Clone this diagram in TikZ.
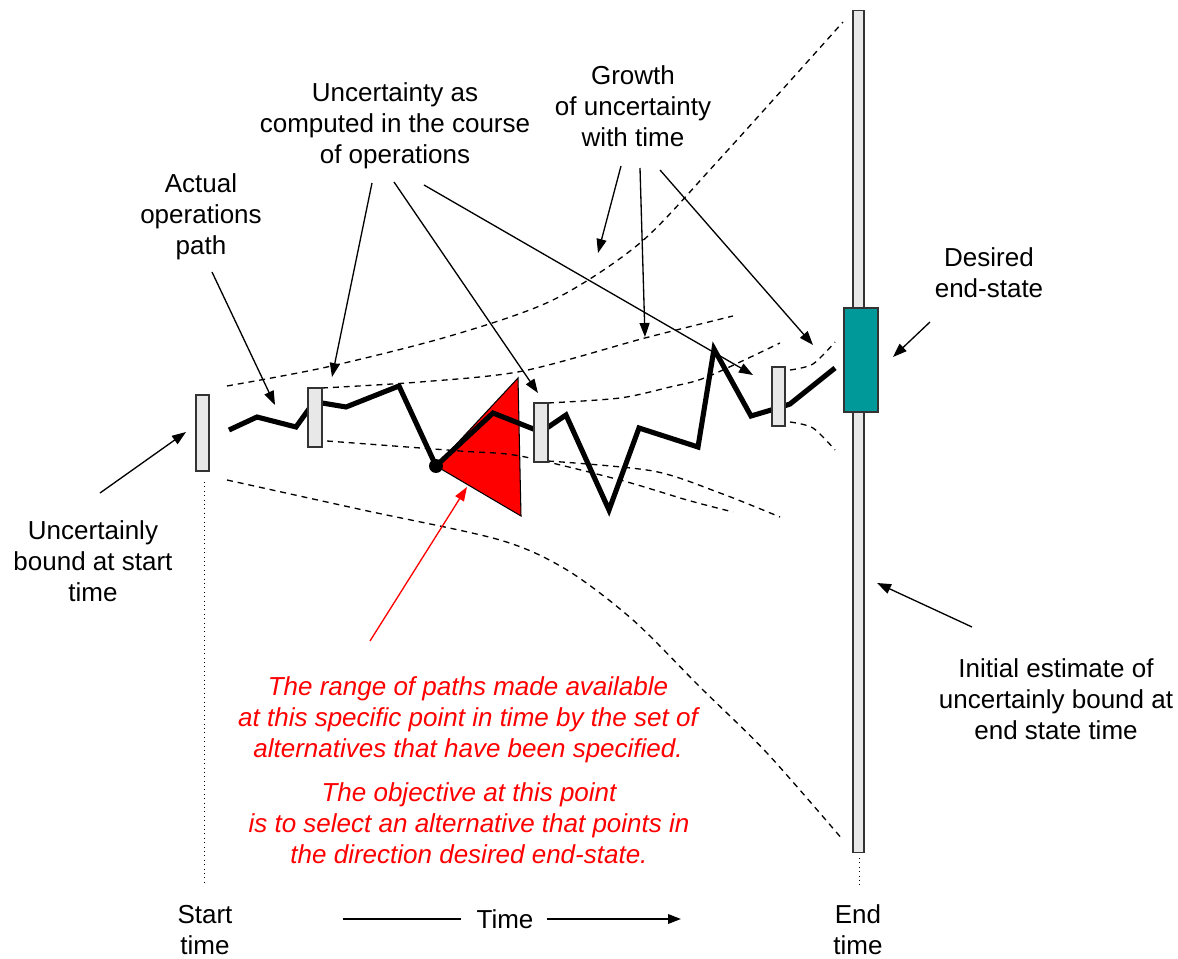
\documentclass[tikz,border=0pt]{standalone}
\usepackage{fontspec}
\setmainfont{Liberation Sans}
\usetikzlibrary{arrows.meta}
\definecolor{bargray}{HTML}{E8E8E8}
\definecolor{barline}{HTML}{333333}
\definecolor{tealbox}{HTML}{009999}
\begin{document}
\begin{tikzpicture}[x=0.02cm,y=-0.02cm,
  lbl/.style={font=\fontsize{14.8pt}{17.6pt}\selectfont, align=center, inner sep=0pt},
  redlbl/.style={lbl, text=red, font=\fontsize{14.8pt}{17.6pt}\selectfont\itshape},
  barbox/.style={draw=barline, fill=bargray, line width=0.6pt, inner sep=0pt, outer sep=0pt},
  dsh/.style={line width=0.75pt, dash pattern=on 3.4pt off 2.8pt},
  opspath/.style={line width=2.9pt, line join=miter},
  pointer/.style={line width=0.75pt, -{Triangle[length=0.28cm,width=0.2cm]}},
  redpointer/.style={pointer, draw=red, -{Triangle[length=0.28cm,width=0.2cm,fill=red]}},
  timearrow/.style={line width=1.1pt, -{Triangle[length=0.26cm,width=0.19cm]}}]
\useasboundingbox (0,0) rectangle (1178,959);

% red triangle (range of paths)
\draw[fill=red, draw=black, line width=0.6pt] (436,466) -- (518,378) -- (521,516) -- cycle;

% dashed uncertainty bounds
\draw[dsh] plot[smooth] coordinates {(227,386) (327,367) (450,336) (553,300) (640,243) (717,162) (843,22)};
\draw[dsh] plot[smooth] coordinates {(227,480) (363,510) (500,540) (567,570) (633,620) (700,687) (767,753) (843,840)};
\draw[dsh] plot[smooth] coordinates {(322,388) (420,382) (523,371) (645,338) (733,316)};
\draw[dsh] plot[smooth] coordinates {(327,441) (460,451) (520,456) (620,480) (687,500) (733,512)};
\draw[dsh] plot[smooth] coordinates {(548,403) (620,398) (670,387) (707,377) (780,343)};
\draw[dsh] plot[smooth] coordinates {(548,461) (653,471) (720,493) (780,517)};
\draw[dsh] plot[smooth] coordinates {(790,370) (813,364) (835,342)};
\draw[dsh] plot[smooth] coordinates {(790,422) (813,428) (835,450)};

% actual operations path
\draw[opspath] (229,430) -- (257,417) -- (296,427) -- (314,402) -- (322,403) -- (346,407) -- (399,386) -- (436,466) -- (493,413) -- (541,432) -- (566,415) -- (609,510) -- (639,428) -- (698,447) -- (714,349) -- (751,416) -- (778,408) -- (790,404) -- (835,368);
\fill (436,466) circle (0.14cm);

% uncertainty bars
\node[barbox, minimum width=0.26cm, minimum height=1.52cm] (bar1) at (202.5,433) {};
\node[barbox, minimum width=0.28cm, minimum height=1.18cm] (bar2) at (315,417.5) {};
\node[barbox, minimum width=0.28cm, minimum height=1.18cm] (bar3) at (541,432.5) {};
\node[barbox, minimum width=0.26cm, minimum height=1.18cm] (bar4) at (778.5,396.5) {};
\node[barbox, minimum width=0.22cm, minimum height=16.86cm] (endbar) at (858.5,431.5) {};
\node[draw=barline, fill=tealbox, line width=0.6pt, inner sep=0pt, minimum width=0.68cm, minimum height=2.08cm] (goal) at (861,360) {};

% dotted time markers
\coordinate (st1) at (204,482); \coordinate (st2) at (204,885);
\coordinate (et1) at (859,858); \coordinate (et2) at (859,885);
\draw[dotted, line width=0.5pt] (st1) -- (st2);
\draw[dotted, line width=0.5pt] (et1) -- (et2);

% labels
\node[lbl] (actual) at (201,217) {Actual\\operations\\path};
\node[lbl] (unc) at (395,126) {Uncertainty as\\computed in the course\\of operations};
\node[lbl] (growth) at (633,106) {Growth\\of uncertainty\\with time};
\node[lbl] (desired) at (989,273) {Desired\\end-state};
\node[lbl] (startb) at (93,561) {Uncertainly\\bound at start\\time};
\node[lbl] (initial) at (1056,699) {Initial estimate of\\uncertainly bound at\\end state time};
\node[redlbl] (range) at (468,720) {The range of paths made available\\at this specific point in time by the set of\\alternatives that have been specified.};
\node[redlbl] (objective) at (469,823) {The objective at this point\\is to select an alternative that points in\\the direction desired end-state.};
\node[lbl] (starttime) at (205,930) {Start\\time};
\node[lbl] (endtime) at (858,930) {End\\time};
\node[lbl] (time) at (505,919) {Time};

% arrow endpoints
\coordinate (a1s) at (212,272); \coordinate (a1t) at (275,405);
\coordinate (u1s) at (372,183); \coordinate (u1t) at (332,377);
\coordinate (u2s) at (394,182); \coordinate (u2t) at (538,393);
\coordinate (u3s) at (424,185); \coordinate (u3t) at (753,375);
\coordinate (g1s) at (621,166); \coordinate (g1t) at (598,253);
\coordinate (g2s) at (640,168); \coordinate (g2t) at (645,337);
\coordinate (g3s) at (660,170); \coordinate (g3t) at (813,345);
\coordinate (ds) at (930,322); \coordinate (dt) at (893,357);
\coordinate (ss) at (100,493); \coordinate (stt) at (186,432);
\coordinate (is) at (972,627); \coordinate (it) at (877,583);
\coordinate (rs) at (370,641); \coordinate (rt) at (467,487);
\coordinate (tl1) at (343,919); \coordinate (tl2) at (461,919);
\coordinate (ta1) at (547,919); \coordinate (ta2) at (681,919);

\draw[pointer] (a1s) -- (a1t);
\draw[pointer] (u1s) -- (u1t);
\draw[pointer] (u2s) -- (u2t);
\draw[pointer] (u3s) -- (u3t);
\draw[pointer] (g1s) -- (g1t);
\draw[pointer] (g2s) -- (g2t);
\draw[pointer] (g3s) -- (g3t);
\draw[pointer] (ds) -- (dt);
\draw[pointer] (ss) -- (stt);
\draw[pointer] (is) -- (it);
\draw[redpointer] (rs) -- (rt);
\draw[line width=1.1pt] (tl1) -- (tl2);
\draw[timearrow] (ta1) -- (ta2);
\end{tikzpicture}
\end{document}
